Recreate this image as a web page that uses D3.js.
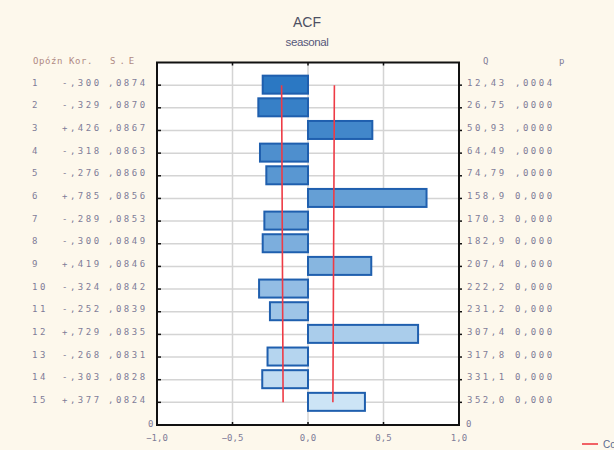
<!DOCTYPE html>
<html>
<head>
<meta charset="utf-8">
<script src="https://cdn.jsdelivr.net/npm/d3@7"></script>
<style>
  body { margin: 0; background: #fdf8ec; }
  svg { display: block; }
  .mono { font-family: "DejaVu Sans Mono", "Liberation Mono", monospace; font-size: 9px; letter-spacing: 2.5px; fill: #7f7c98; }
</style>
</head>
<body>
<div id="chart"></div>
<script>
// ACF table
var lags = [1, 2, 3, 4, 5, 6, 7, 8, 9, 10, 11, 12, 13, 14, 15];
var acf = [-0.300, -0.329, 0.426, -0.318, -0.276, 0.785, -0.289, -0.300, 0.419, -0.324, -0.252, 0.729, -0.268, -0.303, 0.377];
var se = [0.0874, 0.0870, 0.0867, 0.0863, 0.0860, 0.0856, 0.0853, 0.0849, 0.0846, 0.0842, 0.0839, 0.0835, 0.0831, 0.0828, 0.0824];
var qStat = [12.43, 26.75, 50.93, 64.49, 74.79, 158.9, 170.3, 182.9, 207.4, 222.2, 231.2, 307.4, 317.8, 331.1, 352.0];
var pText = [",0004", ",0000", ",0000", ",0000", ",0000", "0,000", "0,000", "0,000", "0,000", "0,000", "0,000", "0,000", "0,000", "0,000", "0,000"];
var xTicks = [-1, -0.5, 0, 0.5, 1];

var width = 614, height = 450;
var plotL = 157, plotR = 459, plotT = 62.5, plotB = 425;

var svg = d3.select("#chart").append("svg")
  .attr("width", width)
  .attr("height", height);

svg.append("rect").attr("width", width).attr("height", height).attr("fill", "#fdf8ec");

var x = d3.scaleLinear().domain([-1, 1]).range([plotL, plotR]);
// lag 1 sits at the top, the axis ends at the bottom edge
var y = d3.scaleLinear().domain([0, 16]).range([plotT, plotB]);
var colour = d3.scaleLinear().domain([1, 15]).range(["#2b78c3", "#cce4f6"]).interpolate(d3.interpolateRgb);

var comma = function(s) { return s.replace(".", ","); };
var fmtR = function(v) { return (v < 0 ? "-" : "+") + d3.format(".3f")(Math.abs(v)).replace("0.", ","); };
var fmtSE = function(v) { return d3.format(".4f")(v).replace("0.", ","); };
var fmtQ = function(v) { return comma(d3.format(".4r")(v)); };

// titles
svg.append("text").attr("x", 307).attr("y", 27).attr("text-anchor", "middle")
  .style("font-family", "Liberation Sans, Arial, sans-serif").style("font-size", "14px").attr("fill", "#4d5063")
  .text("ACF");
svg.append("text").attr("x", 307).attr("y", 46).attr("text-anchor", "middle")
  .style("font-family", "Liberation Sans, Arial, sans-serif").style("font-size", "11.5px").attr("fill", "#55577a")
  .style("letter-spacing", "-0.4px")
  .text("seasonal");

// plot area
svg.append("rect").attr("x", plotL).attr("y", plotT).attr("width", plotR - plotL).attr("height", plotB - plotT).attr("fill", "#fff");

var grid = svg.append("g").attr("stroke", "#d4d4d4").attr("stroke-width", 1.5);
grid.selectAll("line.h").data(lags).enter().append("line")
  .attr("x1", plotL).attr("x2", plotR)
  .attr("y1", function(d) { return y(d); }).attr("y2", function(d) { return y(d); });
grid.selectAll("line.v").data(xTicks.slice(1, -1)).enter().append("line")
  .attr("y1", plotT).attr("y2", plotB)
  .attr("x1", function(d) { return x(d); }).attr("x2", function(d) { return x(d); });

// bars
svg.append("g").selectAll("rect")
  .data(lags).enter().append("rect")
  .attr("x", function(d, i) { return x(Math.min(0, acf[i])); })
  .attr("width", function(d, i) { return Math.abs(x(acf[i]) - x(0)); })
  .attr("y", function(d) { return y(d) - 9.5; })
  .attr("height", 18)
  .attr("fill", function(d) { return colour(d); })
  .attr("stroke", "#1f5fae")
  .attr("stroke-width", 2);

// confidence limits
var limLine = d3.line()
  .x(function(d) { return x(d[0]); })
  .y(function(d) { return y(d[1]); });
[1, -1].forEach(function(s) {
  svg.append("path")
    .attr("d", limLine(lags.map(function(l, i) { return [s * 2 * se[i], l]; })))
    .attr("fill", "none").attr("stroke", "#ee3b45").attr("stroke-width", 1.6);
});

// frame and ticks
svg.append("rect").attr("x", plotL).attr("y", plotT).attr("width", plotR - plotL).attr("height", plotB - plotT)
  .attr("fill", "none").attr("stroke", "#111").attr("stroke-width", 2);
var ticks = svg.append("g").attr("stroke", "#111").attr("stroke-width", 1.5);
ticks.selectAll("line.l").data(lags).enter().append("line")
  .attr("x1", plotL).attr("x2", plotL + 4)
  .attr("y1", function(d) { return y(d); }).attr("y2", function(d) { return y(d); });
ticks.selectAll("line.r").data(lags).enter().append("line")
  .attr("x1", plotR).attr("x2", plotR + 3)
  .attr("y1", function(d) { return y(d); }).attr("y2", function(d) { return y(d); });
ticks.selectAll("line.b").data(xTicks.slice(1, -1)).enter().append("line")
  .attr("y1", plotB).attr("y2", plotB - 3)
  .attr("x1", function(d) { return x(d); }).attr("x2", function(d) { return x(d); });
ticks.selectAll("line.t").data(xTicks.slice(1, -1)).enter().append("line")
  .attr("y1", plotT).attr("y2", plotT + 3)
  .attr("x1", function(d) { return x(d); }).attr("x2", function(d) { return x(d); });

// x axis labels
svg.append("g").selectAll("text").data(xTicks).enter().append("text")
  .attr("class", "mono").style("letter-spacing", "0px")
  .attr("x", function(d) { return x(d); }).attr("y", 441)
  .attr("text-anchor", "middle")
  .text(function(d) { return comma(d3.format(".1f")(d)); });

// left table
svg.append("text").attr("class", "mono").attr("x", 33).attr("y", 64).style("fill", "#b08a84").style("letter-spacing", "0.6px").text("Opóźn");
svg.append("text").attr("class", "mono").attr("x", 69).attr("y", 64).style("fill", "#b08a84").style("letter-spacing", "0.6px").text("Kor.");
svg.append("text").attr("class", "mono").attr("x", 110).attr("y", 64).style("fill", "#b08a84").style("letter-spacing", "4px").text("S.E");
var rows = svg.append("g").selectAll("g").data(lags).enter().append("g")
  .attr("transform", function(d) { return "translate(0," + (y(d) + 0.5) + ")"; });
rows.append("text").attr("class", "mono").attr("x", 32).text(function(d) { return d; });
rows.append("text").attr("class", "mono").attr("x", 62).text(function(d, i) { return fmtR(acf[i]); });
rows.append("text").attr("class", "mono").attr("x", 108).text(function(d, i) { return fmtSE(se[i]); });
rows.append("text").attr("class", "mono").attr("x", 467).text(function(d, i) { return fmtQ(qStat[i]); });
rows.append("text").attr("class", "mono").attr("x", 515).text(function(d, i) { return pText[i]; });
svg.append("text").attr("class", "mono").attr("x", 148).attr("y", plotB + 2).text("0");
svg.append("text").attr("class", "mono").attr("x", 466).attr("y", plotB + 2).text("0");
svg.append("text").attr("class", "mono").attr("x", 483).attr("y", 64).text("Q");
svg.append("text").attr("class", "mono").attr("x", 559).attr("y", 64).text("p");

// legend, cut off at the window edge
svg.append("line").attr("x1", 582).attr("x2", 598).attr("y1", 444).attr("y2", 444)
  .attr("stroke", "#ee3b45").attr("stroke-width", 1.6);
svg.append("text").attr("x", 603).attr("y", 448)
  .style("font-family", "Liberation Sans, Arial, sans-serif").style("font-size", "10px").attr("fill", "#5a6a90")
  .text("Conf. Limit");
</script>
</body>
</html>
